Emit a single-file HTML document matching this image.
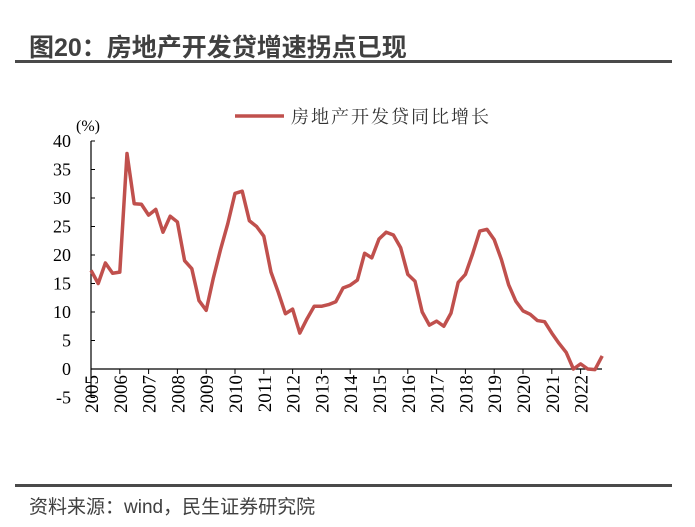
<!DOCTYPE html>
<html><head><meta charset="utf-8"><style>
body{margin:0;background:#fff;width:695px;height:527px;overflow:hidden;position:relative;font-family:"Liberation Sans","Noto Sans CJK SC",sans-serif}
.title{position:absolute;left:29px;top:28px;font-size:25px;font-weight:bold;color:#404040;letter-spacing:0px}
.rule{position:absolute;left:15px;width:657px;height:3px;background:#4a4a4a}
.src{position:absolute;left:29px;top:492px;font-size:19px;color:#404040}
</style></head><body>
<div class="title">图20：房地产开发贷增速拐点已现</div>
<div class="rule" style="top:60px"></div>
<div class="rule" style="top:484px"></div>
<div class="src">资料来源：wind，民生证券研究院</div>
<svg id="c" width="695" height="527" style="position:absolute;left:0;top:0"></svg>
<script>
const years=["2005","2006","2007","2008","2009","2010","2011","2012","2013","2014","2015","2016","2017","2018","2019","2020","2021","2022"];
const yTicks=[-5,0,5,10,15,20,25,30,35,40];
const values=[17.3,15,18.6,16.8, 17,37.8,29,28.9, 27,28,24,26.8, 25.8,19,17.6,12, 10.3,16,21,25.5, 30.8,31.2,26,25, 23.3,17,13.5,9.7, 10.5,6.3,8.8,11, 11,11.3,11.8,14.2, 14.7,15.6,20.3,19.5, 22.8,24,23.5,21.3, 16.6,15.4,10,7.7, 8.4,7.5,9.8,15.2, 16.6,20.2,24.2,24.5, 22.7,19.2,14.8,11.9, 10.2,9.6,8.5,8.3, 6.3,4.5,2.9,0, 0.9,0,-0.1,2.3];
const svg=document.getElementById('c');const NS='http://www.w3.org/2000/svg';
const x0=91,yr=28.8;
function xs(i){return x0+i*yr/4;}
function ys(v){return 369-v*28.5/5;}
function mk(t,a,p){const e=document.createElementNS(NS,t);for(const k in a)e.setAttribute(k,a[k]);(p||svg).appendChild(e);return e;}
const ax=mk('g',{});


mk('line',{x1:x0,y1:ys(40),x2:x0,y2:ys(-5),stroke:'#000','stroke-width':1.2},ax);
mk('line',{x1:x0,y1:ys(0),x2:602,y2:ys(0),stroke:'#000','stroke-width':1.2},ax);
yTicks.forEach(v=>{mk('line',{x1:x0,y1:ys(v),x2:x0+4,y2:ys(v),stroke:'#000'},ax);
 const t=mk('text',{x:x0-20,y:ys(v)+6,'text-anchor':'end','font-size':18,'font-family':'Liberation Serif, serif'},ax);t.textContent=v;
 
 });
years.forEach((y,i)=>{const x=x0+i*yr;mk('line',{x1:x,y1:ys(0),x2:x,y2:ys(0)+5,stroke:'#000'},ax);
 const t=mk('text',{x:0,y:0,transform:`translate(${x+7},${375}) rotate(-90)`,'text-anchor':'end','font-size':19,'font-family':'Liberation Serif, serif'},ax);t.textContent=y;
 
 });
const u=mk('text',{x:76,y:131,'font-size':16,'font-family':'Liberation Serif, Noto Serif CJK SC, serif'});u.textContent='(%)';


const p=mk('polyline',{points:values.map((v,i)=>xs(i)+','+ys(v)).join(' '),fill:'none',stroke:'#c0504d','stroke-width':3.5,'stroke-linejoin':'round'});


const lg=mk('g',{});


mk('line',{x1:235,y1:116,x2:284,y2:116,stroke:'#c0504d','stroke-width':3.5},lg);
const lt=mk('text',{x:291,y:123,'font-size':18,'letter-spacing':2,'font-family':'Noto Serif CJK SC, serif',fill:'#333'},lg);lt.textContent='房地产开发贷同比增长';
</script>
</body></html>
